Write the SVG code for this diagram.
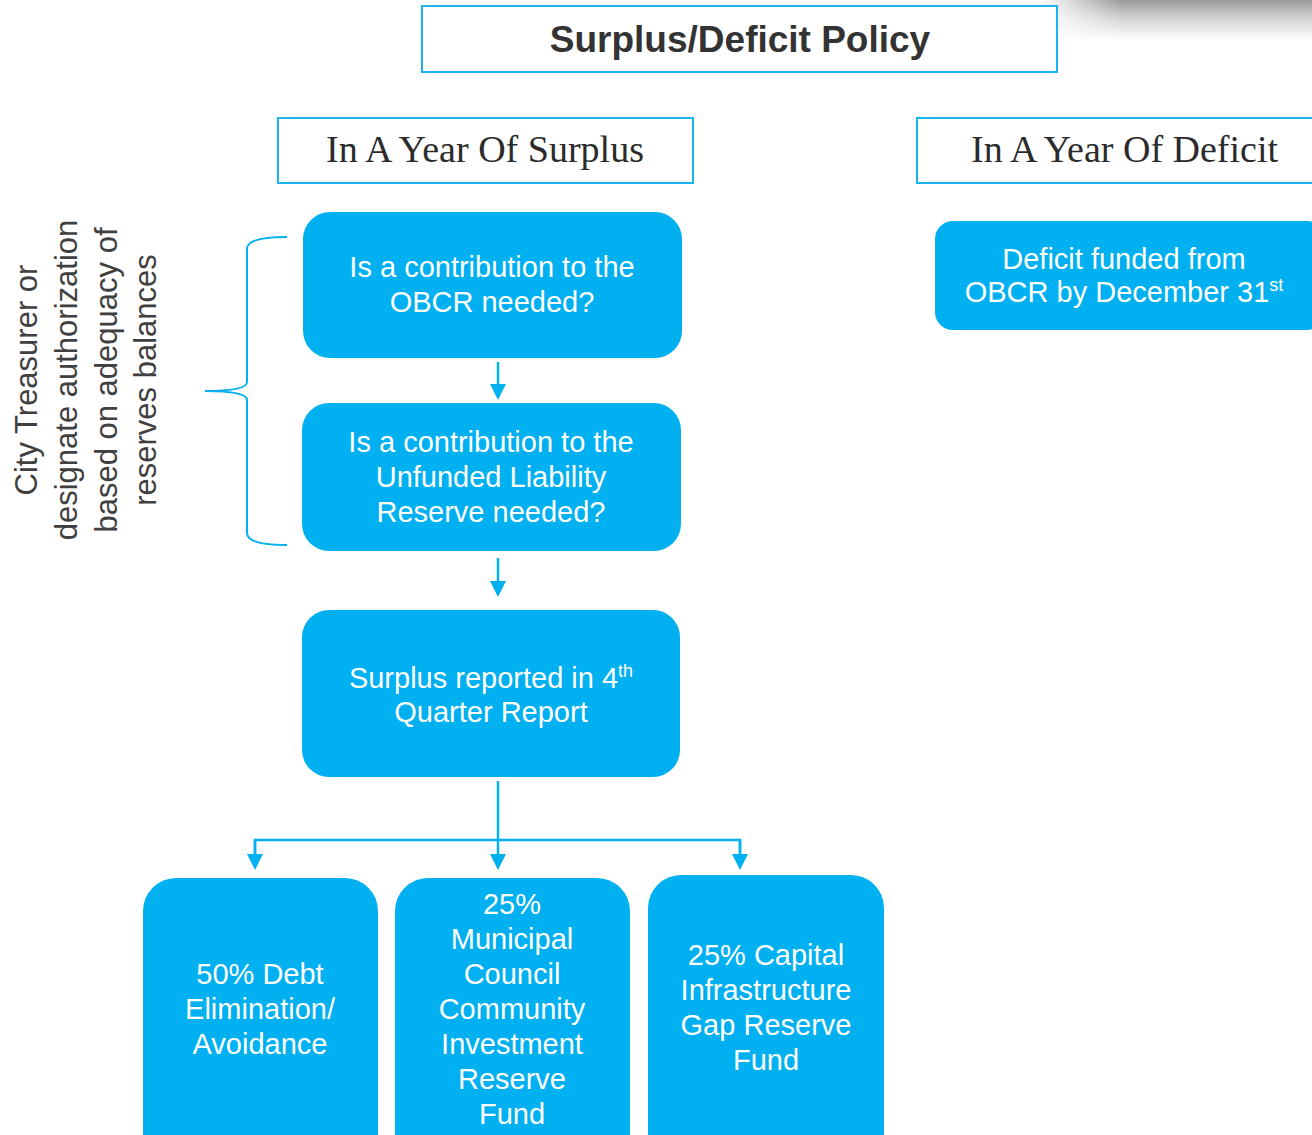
<svg xmlns="http://www.w3.org/2000/svg" width="1312" height="1135" viewBox="0 0 1312 1135">
<style>
  .node { fill: #00B0F0; }
  .hdr { fill: #FFFFFF; stroke: #1AB4F0; stroke-width: 2; }
  .ntext { font-family: "Liberation Sans", Arial, sans-serif; font-size: 29px; fill: #FFFFFF; text-anchor: middle; }
  .sup { font-size: 18px; }
  .serif { font-family: "Liberation Serif", "Times New Roman", serif; font-size: 38px; fill: #2B2B2B; text-anchor: middle; }
  .side { font-family: "Liberation Sans", Arial, sans-serif; font-size: 31px; fill: #404040; text-anchor: middle; }
  .conn { fill: none; stroke: #00B0F0; stroke-width: 2.5; }
  .brace { fill: none; stroke: #00B0F0; stroke-width: 2; }
</style>
<defs>
  <marker id="arrow" viewBox="0 0 16 16" refX="10" refY="8" markerWidth="16" markerHeight="16" markerUnits="userSpaceOnUse" orient="auto">
    <polygon points="0,0 16,8 0,16" fill="#00B0F0"/>
  </marker>
  <linearGradient id="shadeV" x1="0" y1="0" x2="0" y2="1">
    <stop offset="0" stop-color="#9a9a9a"/>
    <stop offset="0.45" stop-color="#d2d2d2"/>
    <stop offset="1" stop-color="#ffffff"/>
  </linearGradient>
  <linearGradient id="fadeH" x1="0" y1="0" x2="1" y2="0">
    <stop offset="0" stop-color="#000"/>
    <stop offset="0.3" stop-color="#fff"/>
    <stop offset="1" stop-color="#fff"/>
  </linearGradient>
  <mask id="shadeMask" maskUnits="userSpaceOnUse" x="1040" y="0" width="272" height="50">
    <rect x="1040" y="0" width="272" height="50" fill="url(#fadeH)"/>
  </mask>
</defs>
<rect x="0" y="0" width="1312" height="1135" fill="#FFFFFF"/>
<g id="page-shadow">
  <rect x="1040" y="0" width="272" height="40" fill="url(#shadeV)" mask="url(#shadeMask)"/>
</g>

<g id="title">
  <rect class="hdr" x="422" y="6" width="635" height="66"/>
  <text x="740" y="52" font-family="Liberation Sans, Arial, sans-serif" font-weight="bold" font-size="37" fill="#333333" text-anchor="middle">Surplus/Deficit Policy</text>
</g>

<g id="header-surplus">
  <rect class="hdr" x="278" y="118" width="415" height="65"/>
  <text class="serif" x="485" y="162" textLength="318" lengthAdjust="spacingAndGlyphs">In A Year Of Surplus</text>
</g>

<g id="header-deficit">
  <rect class="hdr" x="917" y="118" width="400" height="65"/>
  <text class="serif" x="1124.5" y="162" textLength="307" lengthAdjust="spacingAndGlyphs">In A Year Of Deficit</text>
</g>

<g id="side-note">
  <text class="side" transform="translate(37,380) rotate(-90)">City Treasurer or</text>
  <text class="side" transform="translate(77,380) rotate(-90)">designate authorization</text>
  <text class="side" transform="translate(117,380) rotate(-90)">based on adequacy of</text>
  <text class="side" transform="translate(156,380) rotate(-90)">reserves balances</text>
</g>

<g id="brace">
  <path class="brace" d="M287,237 Q247,237 247,249 L247,382 Q247,391 205,391 Q247,391 247,400 L247,533 Q247,545 287,545"/>
</g>

<g id="deficit-funded">
  <rect class="node" x="935" y="221" width="390" height="109" rx="18"/>
  <text class="ntext" x="1124" y="269">Deficit funded from</text>
  <text class="ntext" x="1124" y="302">OBCR by December 31<tspan class="sup" dy="-11">st</tspan></text>
</g>

<g id="obcr-question">
  <rect class="node" x="303" y="212" width="379" height="146" rx="27"/>
  <text class="ntext" x="492" y="277">Is a contribution to the</text>
  <text class="ntext" x="492" y="312">OBCR needed?</text>
</g>

<g id="ulr-question">
  <rect class="node" x="302" y="403" width="379" height="148" rx="27"/>
  <text class="ntext" x="491" y="452">Is a contribution to the</text>
  <text class="ntext" x="491" y="487">Unfunded Liability</text>
  <text class="ntext" x="491" y="522">Reserve needed?</text>
</g>

<g id="surplus-reported">
  <rect class="node" x="302" y="610" width="378" height="167" rx="27"/>
  <text class="ntext" x="491" y="688">Surplus reported in 4<tspan class="sup" dy="-11">th</tspan></text>
  <text class="ntext" x="491" y="722">Quarter Report</text>
</g>

<g id="debt-elimination">
  <rect class="node" x="143" y="878" width="235" height="290" rx="33"/>
  <text class="ntext" x="260" y="984">50% Debt</text>
  <text class="ntext" x="260" y="1019">Elimination/</text>
  <text class="ntext" x="260" y="1054">Avoidance</text>
</g>

<g id="community-investment">
  <rect class="node" x="395" y="878" width="235" height="290" rx="33"/>
  <text class="ntext" x="512" y="914">25%</text>
  <text class="ntext" x="512" y="949">Municipal</text>
  <text class="ntext" x="512" y="984">Council</text>
  <text class="ntext" x="512" y="1019">Community</text>
  <text class="ntext" x="512" y="1054">Investment</text>
  <text class="ntext" x="512" y="1089">Reserve</text>
  <text class="ntext" x="512" y="1124">Fund</text>
</g>

<g id="capital-infrastructure">
  <rect class="node" x="648" y="875" width="236" height="293" rx="33"/>
  <text class="ntext" x="766" y="965">25% Capital</text>
  <text class="ntext" x="766" y="1000">Infrastructure</text>
  <text class="ntext" x="766" y="1035">Gap Reserve</text>
  <text class="ntext" x="766" y="1070">Fund</text>
</g>

<g id="connectors">
  <line class="conn" x1="498" y1="362" x2="498" y2="394" marker-end="url(#arrow)"/>
  <line class="conn" x1="498" y1="558" x2="498" y2="591" marker-end="url(#arrow)"/>
  <line class="conn" x1="498" y1="781" x2="498" y2="864" marker-end="url(#arrow)"/>
  <polyline class="conn" points="255,856 255,840 740,840 740,856"/>
  <line class="conn" x1="255" y1="840" x2="255" y2="864" marker-end="url(#arrow)"/>
  <line class="conn" x1="740" y1="840" x2="740" y2="864" marker-end="url(#arrow)"/>
</g>
</svg>
